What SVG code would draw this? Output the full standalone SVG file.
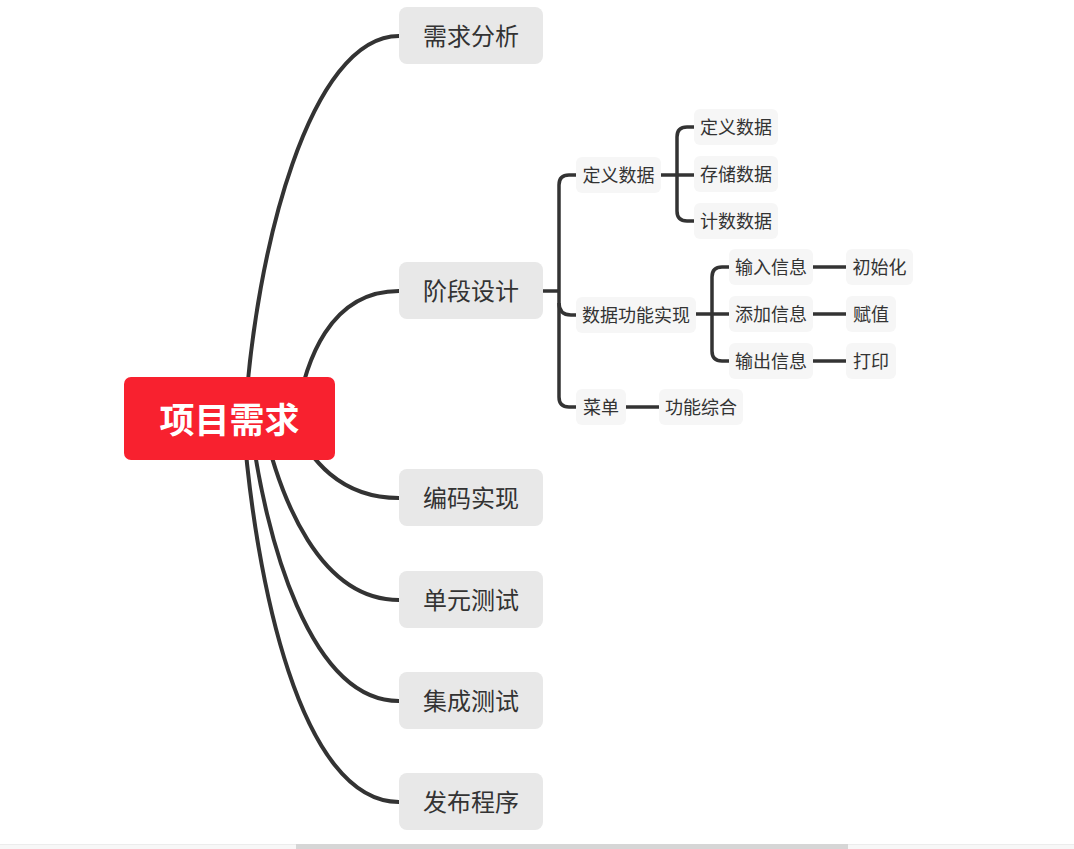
<svg xmlns="http://www.w3.org/2000/svg" width="1074" height="849" viewBox="0 0 1074 849">
<style>
text{font-family:"Noto Sans CJK SC","Noto Sans",sans-serif;fill:#333;text-anchor:middle;dominant-baseline:central}
.main rect{fill:#e8e8e8}
.main text{font-size:24px}
.sub rect{fill:#f6f6f6}
.sub text{font-size:18px}
.c{fill:none;stroke:#333;stroke-width:4;stroke-linecap:round}
.s{fill:none;stroke:#333;stroke-width:3.5}
</style>
<rect width="1074" height="849" fill="#fff"/>
<g id="connectors">
<path class="c" d="M245 419 C255 250 310 36 399 36"/>
<path class="c" d="M296 419 C305 360 330 291 399 291"/>
<path class="c" d="M290 419 C310 460 340 498 399 498"/>
<path class="c" d="M262 419 C280 500 320 600 399 600"/>
<path class="c" d="M250 419 C265 540 310 701 399 701"/>
<path class="c" d="M243 419 C255 580 300 802 399 802"/>
<path class="s" d="M543 291 H559"/>
<path class="s" d="M576 175 H569 Q559 175 559 185 V397 Q559 407 569 407 H576"/>
<path class="s" d="M559 303 Q559 315 571 315 H576"/>
<path class="s" d="M661 175 H694"/>
<path class="s" d="M694 127 H687 Q677 127 677 137 V211 Q677 221 687 221 H694"/>
<path class="s" d="M696 314 H729"/>
<path class="s" d="M729 267 H722 Q712 267 712 277 V351 Q712 361 722 361 H729"/>
<path class="s" d="M813 267 H846"/>
<path class="s" d="M813 314 H846"/>
<path class="s" d="M813 361 H846"/>
<path class="s" d="M626 407 H659"/>
</g>
<g id="root">
<rect x="124" y="377" width="211" height="83" rx="7" fill="#f8212f"/>
<text x="229.5" y="417" style="font-size:35px;font-weight:bold;fill:#fff">项目需求</text>
</g>
<g id="n1" class="main"><rect x="399" y="7" width="144" height="57" rx="8"/><text x="471" y="34">需求分析</text></g>
<g id="n2" class="main"><rect x="399" y="262" width="144" height="57" rx="8"/><text x="471" y="289">阶段设计</text></g>
<g id="n3" class="main"><rect x="399" y="469" width="144" height="57" rx="8"/><text x="471" y="496">编码实现</text></g>
<g id="n4" class="main"><rect x="399" y="571" width="144" height="57" rx="8"/><text x="471" y="598">单元测试</text></g>
<g id="n5" class="main"><rect x="399" y="672" width="144" height="57" rx="8"/><text x="471" y="699">集成测试</text></g>
<g id="n6" class="main"><rect x="399" y="773" width="144" height="57" rx="8"/><text x="471" y="800">发布程序</text></g>
<g id="s1" class="sub"><rect x="576" y="157" width="85" height="36" rx="6"/><text x="618.5" y="173.5">定义数据</text></g>
<g id="s2" class="sub"><rect x="576" y="297" width="120" height="36" rx="6"/><text x="636" y="313.5">数据功能实现</text></g>
<g id="s3" class="sub"><rect x="576" y="389" width="50" height="36" rx="6"/><text x="601" y="405.5">菜单</text></g>
<g id="s11" class="sub"><rect x="694" y="109" width="84" height="36" rx="6"/><text x="736" y="125.5">定义数据</text></g>
<g id="s12" class="sub"><rect x="694" y="156" width="84" height="36" rx="6"/><text x="736" y="172.5">存储数据</text></g>
<g id="s13" class="sub"><rect x="694" y="203" width="84" height="36" rx="6"/><text x="736" y="219.5">计数数据</text></g>
<g id="s21" class="sub"><rect x="729" y="249" width="84" height="36" rx="6"/><text x="771" y="265.5">输入信息</text></g>
<g id="s22" class="sub"><rect x="729" y="296" width="84" height="36" rx="6"/><text x="771" y="312.5">添加信息</text></g>
<g id="s23" class="sub"><rect x="729" y="343" width="84" height="36" rx="6"/><text x="771" y="359.5">输出信息</text></g>
<g id="s211" class="sub"><rect x="846" y="249" width="67" height="36" rx="6"/><text x="879.5" y="265.5">初始化</text></g>
<g id="s221" class="sub"><rect x="846" y="296" width="50" height="36" rx="6"/><text x="871" y="312.5">赋值</text></g>
<g id="s231" class="sub"><rect x="846" y="343" width="50" height="36" rx="6"/><text x="871" y="359.5">打印</text></g>
<g id="s31" class="sub"><rect x="659" y="389" width="84" height="36" rx="6"/><text x="701" y="405.5">功能综合</text></g>
<g id="scrollbar">
<rect x="0" y="844" width="1074" height="5" fill="#f7f7f7"/>
<rect x="0" y="844" width="1074" height="1" fill="#ececec"/>
<rect x="296" y="844" width="552" height="5" fill="#d6d6d6"/>
</g>
</svg>
